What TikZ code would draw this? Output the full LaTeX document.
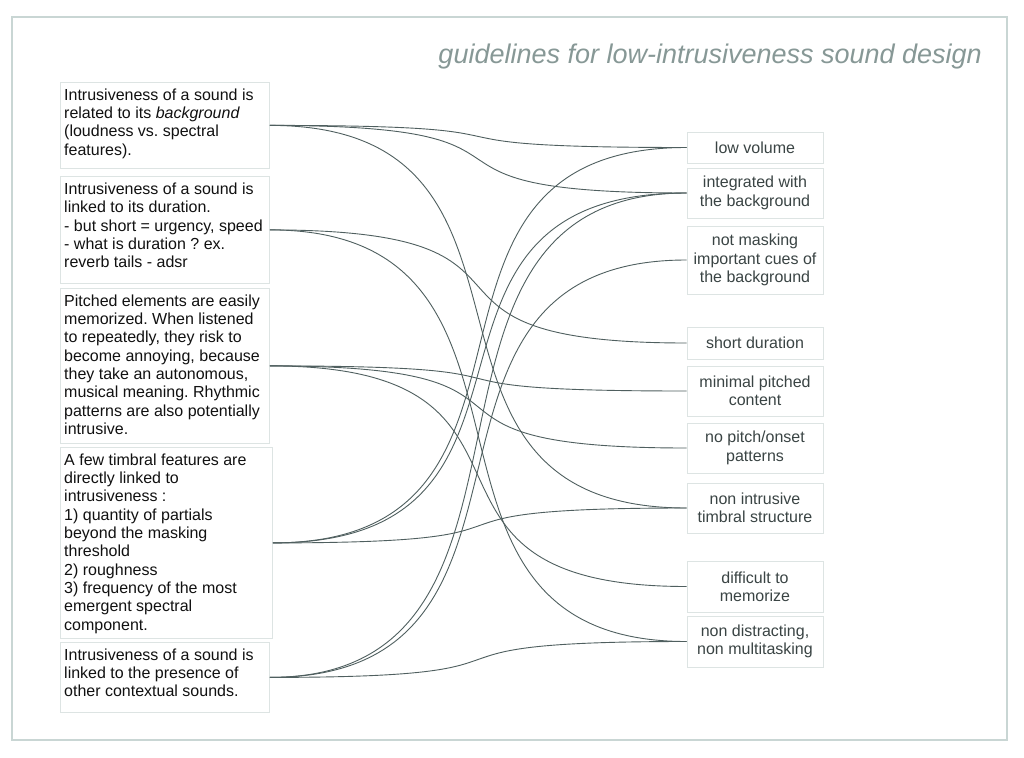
\documentclass[tikz,border=0pt]{standalone}
\usepackage{fontspec}
\setmainfont{Liberation Sans}
\frenchspacing
\definecolor{framec}{HTML}{C9D6D4}
\definecolor{boxc}{HTML}{DDE4E3}
\definecolor{linec}{HTML}{4F5F5F}
\definecolor{titlec}{HTML}{879896}
\definecolor{ltext}{HTML}{111111}
\definecolor{rtext}{HTML}{3A4444}
\begin{document}
\begin{tikzpicture}[x=1pt,y=-1pt,
  lbox/.style={draw=boxc, line width=0.8pt, inner sep=0pt, anchor=north west},
  ltxt/.style={inner sep=0pt, anchor=north west, align=left, text=ltext, font=\fontsize{16pt}{18.33pt}\selectfont},
  rbox/.style={draw=boxc, line width=0.8pt, inner sep=0pt, minimum width=136pt, align=center, text=rtext, font=\fontsize{16pt}{18.33pt}\selectfont},
  conn/.style={draw=linec, line width=0.9pt}]
\useasboundingbox (0,0) rectangle (1024,757);
\fill[white] (0,0) rectangle (1024,757);
\draw[framec, line width=1.6pt] (12,17) rectangle (1007,740);
\node[anchor=base east, font=\fontsize{27pt}{30pt}\selectfont\itshape, text=titlec, inner sep=0pt] (title) at (982,63.3) {guidelines for low-intrusiveness sound design};

% left boxes
\node[lbox, minimum width=209pt, minimum height=86pt] (l1) at (60,82) {};
\node[lbox, minimum width=209pt, minimum height=107pt] (l2) at (60,176) {};
\node[lbox, minimum width=209pt, minimum height=155pt] (l3) at (60,288) {};
\node[lbox, minimum width=212pt, minimum height=191pt] (l4) at (60,447) {};
\node[lbox, minimum width=209pt, minimum height=70pt] (l5) at (60,642) {};

% left texts
\node[ltxt] (t1) at (64,88.3) {Intrusiveness of a sound is\\related to its \textit{background}\\(loudness vs. spectral\\features).};
\node[ltxt] (t2) at (64,182.6) {Intrusiveness of a sound is\\linked to its duration.\\- but short = urgency, speed\\- what is duration ? ex.\\reverb tails - adsr};
\node[ltxt] (t3) at (64,294.3) {Pitched elements are easily\\memorized. When listened\\to repeatedly, they risk to\\become annoying, because\\they take an autonomous,\\musical meaning. Rhythmic\\patterns are also potentially\\intrusive.};
\node[ltxt] (t4) at (64,453.3) {A few timbral features are\\directly linked to\\intrusiveness :\\1) quantity of partials\\beyond the masking\\threshold\\2) roughness\\3) frequency of the most\\emergent spectral\\component.};
\node[ltxt] (t5) at (64,648.3) {Intrusiveness of a sound is\\linked to the presence of\\other contextual sounds.};

% right boxes
\node[rbox, minimum height=31pt] (r1) at (755,147.5) {low volume};
\node[rbox, minimum height=50pt] (r2) at (755,193) {integrated with\\the background};
\node[rbox, minimum height=68pt] (r3) at (755,260) {not masking\\important cues of\\the background};
\node[rbox, minimum height=32pt] (r4) at (755,343) {short duration};
\node[rbox, minimum height=50pt] (r5) at (755,391) {minimal pitched\\content};
\node[rbox, minimum height=50pt] (r6) at (755,448) {no pitch/onset\\patterns};
\node[rbox, minimum height=50pt] (r7) at (755,508) {non intrusive\\timbral structure};
\node[rbox, minimum height=51pt] (r8) at (755,586.5) {difficult to\\memorize};
\node[rbox, minimum height=51pt] (r9) at (755,641.5) {non distracting,\\non multitasking};

% connectors
\foreach \a/\b in {l1/r1,l1/r2,l1/r7,l2/r4,l2/r9,l3/r5,l3/r6,l3/r8,l4/r1,l4/r2,l4/r7,l5/r2,l5/r3,l5/r9}
  \draw[conn] (\a.east) .. controls +(315,0) and +(-315,0) .. (\b.west);
\end{tikzpicture}
\end{document}
